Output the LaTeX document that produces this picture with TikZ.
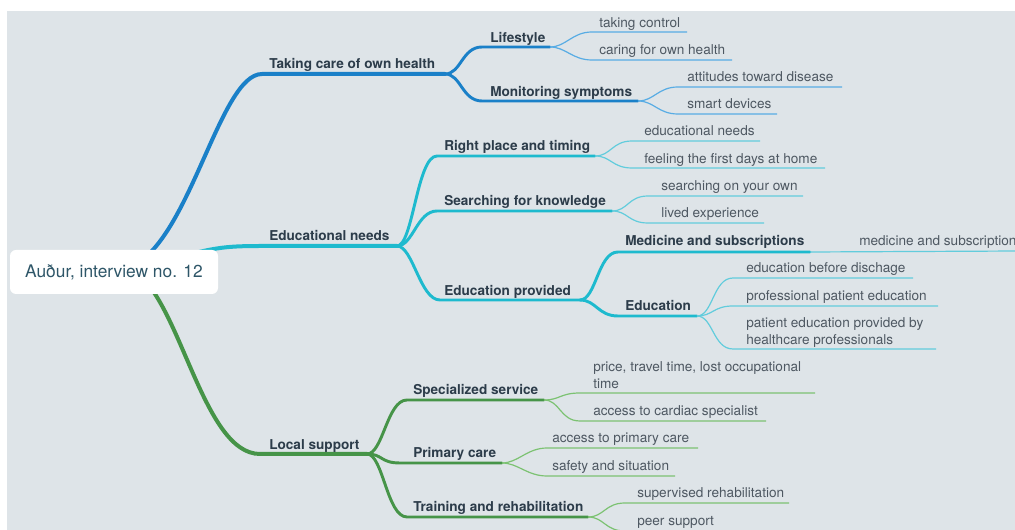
\documentclass[tikz,border=0pt]{standalone}
\usepackage{fontspec}
\setmainfont{TeX Gyre Heros}
\definecolor{canvas}{RGB}{222,228,232}
\definecolor{bluebr}{RGB}{26,128,200}
\definecolor{blueleaf}{RGB}{88,172,228}
\definecolor{cyanbr}{RGB}{30,186,206}
\definecolor{cyanleaf}{RGB}{98,204,220}
\definecolor{greenbr}{RGB}{70,148,72}
\definecolor{greenleaf}{RGB}{124,194,114}
\definecolor{topictext}{RGB}{44,60,74}
\definecolor{leaftext}{RGB}{78,88,98}
\definecolor{roottext}{RGB}{46,86,104}
\begin{document}
\begin{tikzpicture}[x=0.75pt,y=-0.75pt,
  rootbox/.style={fill=white,rounded corners=4.5pt,inner sep=0pt,
    minimum width=156pt,minimum height=33pt,
    font=\fontsize{13}{15}\selectfont,text=roottext},
  topic/.style={anchor=base west,inner sep=0pt,
    font=\fontsize{10.2}{12.75}\selectfont\bfseries,text=topictext},
  leaf/.style={anchor=base west,inner sep=0pt,align=left,
    font=\fontsize{10.2}{12.75}\selectfont,text=leaftext},
  trunk/.style={line width=3pt,line cap=round},
  limb/.style={line width=2.2pt,line cap=round},
  twig/.style={line width=0.9pt}]
  \clip (0,0) rectangle (1015,530);
  \fill[white] (0,0) rectangle (1015,530);
  \fill[canvas] (7,11) rectangle (1015,530);

  % ends of every underline
  \coordinate (hubA) at (132,266);
  \coordinate (hubB) at (180,257);
  \coordinate (hubC) at (132,270);
  \coordinate (care-l) at (262,74);  \coordinate (care-r) at (445,74);
  \coordinate (edun-l) at (262,246); \coordinate (edun-r) at (397,246);
  \coordinate (local-l) at (260,454); \coordinate (local-r) at (367,454);
  \coordinate (life-l) at (482,47);  \coordinate (life-r) at (550,47);
  \coordinate (monitor-l) at (482,101); \coordinate (monitor-r) at (638,101);
  \coordinate (ctrl-l) at (592,32);  \coordinate (ctrl-r) at (687,32);
  \coordinate (caring-l) at (592,60); \coordinate (caring-r) at (732,60);
  \coordinate (attitude-l) at (678,87); \coordinate (attitude-r) at (842,87);
  \coordinate (smart-l) at (678,114); \coordinate (smart-r) at (777,114);
  \coordinate (place-l) at (437,156); \coordinate (place-r) at (595,156);
  \coordinate (search-l) at (437,211); \coordinate (search-r) at (612,211);
  \coordinate (given-l) at (440,300); \coordinate (given-r) at (580,300);
  \coordinate (needs-l) at (632,141); \coordinate (needs-r) at (760,141);
  \coordinate (feeling-l) at (632,168); \coordinate (feeling-r) at (825,168);
  \coordinate (own-l) at (648,196); \coordinate (own-r) at (803,196);
  \coordinate (lived-l) at (648,223); \coordinate (lived-r) at (764,223);
  \coordinate (medicine-l) at (618,252); \coordinate (medicine-r) at (810,252);
  \coordinate (medleaf-r) at (1020,251);
  \coordinate (teach-l) at (618,316); \coordinate (teach-r) at (697,316);
  \coordinate (before-l) at (733,278); \coordinate (before-r) at (913,278);
  \coordinate (profed-l) at (733,306); \coordinate (profed-r) at (938,306);
  \coordinate (provby-l) at (733,349); \coordinate (provby-r) at (936,349);
  \coordinate (special-l) at (407,400); \coordinate (special-r) at (544,400);
  \coordinate (primary-l) at (400,463); \coordinate (primary-r) at (502,463);
  \coordinate (training-l) at (407,517); \coordinate (training-r) at (588,517);
  \coordinate (price-l) at (580,393); \coordinate (price-r) at (815,393);
  \coordinate (cardiac-l) at (580,421); \coordinate (cardiac-r) at (766,421);
  \coordinate (access-l) at (547,448); \coordinate (access-r) at (698,448);
  \coordinate (safety-l) at (547,476); \coordinate (safety-r) at (675,476);
  \coordinate (supervised-l) at (625,503); \coordinate (supervised-r) at (789,503);
  \coordinate (peer-l) at (625,531); \coordinate (peer-r) at (730,531);

  % main branches
  \draw[trunk,bluebr] (hubA) .. controls (190,240) and (220,74) .. (care-l) -- (care-r);
  \draw[trunk,cyanbr] (hubB) .. controls (215,247) and (230,246) .. (edun-l) -- (edun-r);
  \draw[trunk,greenbr] (hubC) .. controls (180,296) and (202,454) .. (local-l) -- (local-r);

  % second level
  \draw[limb,bluebr] (care-r) .. controls +(16,0) and +(-20,0) .. (life-l) -- (life-r);
  \draw[limb,bluebr] (care-r) .. controls +(16,0) and +(-20,0) .. (monitor-l) -- (monitor-r);
  \draw[limb,cyanbr] (edun-r) .. controls +(16,0) and +(-20,0) .. (place-l) -- (place-r);
  \draw[limb,cyanbr] (edun-r) .. controls +(16,0) and +(-20,0) .. (search-l) -- (search-r);
  \draw[limb,cyanbr] (edun-r) .. controls +(16,0) and +(-20,0) .. (given-l) -- (given-r);
  \draw[limb,cyanbr] (given-r) .. controls +(16,0) and +(-20,0) .. (medicine-l) -- (medicine-r);
  \draw[limb,cyanbr] (given-r) .. controls +(16,0) and +(-20,0) .. (teach-l) -- (teach-r);
  \draw[limb,greenbr] (local-r) .. controls +(16,0) and +(-20,0) .. (special-l) -- (special-r);
  \draw[limb,greenbr] (local-r) .. controls +(16,0) and +(-20,0) .. (primary-l) -- (primary-r);
  \draw[limb,greenbr] (local-r) .. controls +(16,0) and +(-20,0) .. (training-l) -- (training-r);

  % leaves
  \draw[twig,blueleaf] (life-r) .. controls +(16,0) and +(-20,0) .. (ctrl-l) -- (ctrl-r);
  \draw[twig,blueleaf] (life-r) .. controls +(16,0) and +(-20,0) .. (caring-l) -- (caring-r);
  \draw[twig,blueleaf] (monitor-r) .. controls +(16,0) and +(-20,0) .. (attitude-l) -- (attitude-r);
  \draw[twig,blueleaf] (monitor-r) .. controls +(16,0) and +(-20,0) .. (smart-l) -- (smart-r);
  \draw[twig,cyanleaf] (place-r) .. controls +(16,0) and +(-20,0) .. (needs-l) -- (needs-r);
  \draw[twig,cyanleaf] (place-r) .. controls +(16,0) and +(-20,0) .. (feeling-l) -- (feeling-r);
  \draw[twig,cyanleaf] (search-r) .. controls +(16,0) and +(-20,0) .. (own-l) -- (own-r);
  \draw[twig,cyanleaf] (search-r) .. controls +(16,0) and +(-20,0) .. (lived-l) -- (lived-r);
  \draw[twig,cyanleaf] (medicine-r) -- (medleaf-r);
  \draw[twig,cyanleaf] (teach-r) .. controls +(16,0) and +(-20,0) .. (before-l) -- (before-r);
  \draw[twig,cyanleaf] (teach-r) .. controls +(16,0) and +(-20,0) .. (profed-l) -- (profed-r);
  \draw[twig,cyanleaf] (teach-r) .. controls +(16,0) and +(-20,0) .. (provby-l) -- (provby-r);
  \draw[twig,greenleaf] (special-r) .. controls +(16,0) and +(-20,0) .. (price-l) -- (price-r);
  \draw[twig,greenleaf] (special-r) .. controls +(16,0) and +(-20,0) .. (cardiac-l) -- (cardiac-r);
  \draw[twig,greenleaf] (primary-r) .. controls +(16,0) and +(-20,0) .. (access-l) -- (access-r);
  \draw[twig,greenleaf] (primary-r) .. controls +(16,0) and +(-20,0) .. (safety-l) -- (safety-r);
  \draw[twig,greenleaf] (training-r) .. controls +(16,0) and +(-20,0) .. (supervised-l) -- (supervised-r);
  \draw[twig,greenleaf] (training-r) .. controls +(16,0) and +(-20,0) .. (peer-l) -- (peer-r);

  % labels
  \node[rootbox] (root) at (114,272) {Auður, interview no. 12};
  \node[topic] (care) at (269,69) {Taking care of own health};
  \node[topic] (edun) at (269,241) {Educational needs};
  \node[topic] (local) at (269,450) {Local support};
  \node[topic] (life) at (490,43) {Lifestyle};
  \node[topic] (monitor) at (490,97) {Monitoring symptoms};
  \node[topic] (place) at (444,151) {Right place and timing};
  \node[topic] (search) at (444,206) {Searching for knowledge};
  \node[topic] (given) at (444,296) {Education provided};
  \node[topic] (medicine) at (625,246) {Medicine and subscriptions};
  \node[topic] (teach) at (625,311) {Education};
  \node[topic] (special) at (413,395) {Specialized service};
  \node[topic] (primary) at (413,458) {Primary care};
  \node[topic] (training) at (413,512) {Training and rehabilitation};
  \node[leaf] (ctrl) at (599,28) {taking control};
  \node[leaf] (caring) at (599,55) {caring for own health};
  \node[leaf] (attitude) at (687,82) {attitudes toward disease};
  \node[leaf] (smart) at (687,109) {smart devices};
  \node[leaf] (needs) at (644,136) {educational needs};
  \node[leaf] (feeling) at (644,164) {feeling the first days at home};
  \node[leaf] (own) at (661,191) {searching on your own};
  \node[leaf] (lived) at (661,218) {lived experience};
  \node[leaf] (medleaf) at (859,246) {medicine and subscriptions};
  \node[leaf] (before) at (746,273) {education before dischage};
  \node[leaf] (profed) at (746,301) {professional patient education};
  \node[leaf] (provby) at (746,345) {patient education provided by\\healthcare professionals};
  \node[leaf] (price) at (593,389) {price, travel time, lost occupational\\time};
  \node[leaf] (cardiac) at (593,416) {access to cardiac specialist};
  \node[leaf] (access) at (552,443) {access to primary care};
  \node[leaf] (safety) at (552,471) {safety and situation};
  \node[leaf] (supervised) at (637,498) {supervised rehabilitation};
  \node[leaf] (peer) at (637,526) {peer support};
\end{tikzpicture}
\end{document}
